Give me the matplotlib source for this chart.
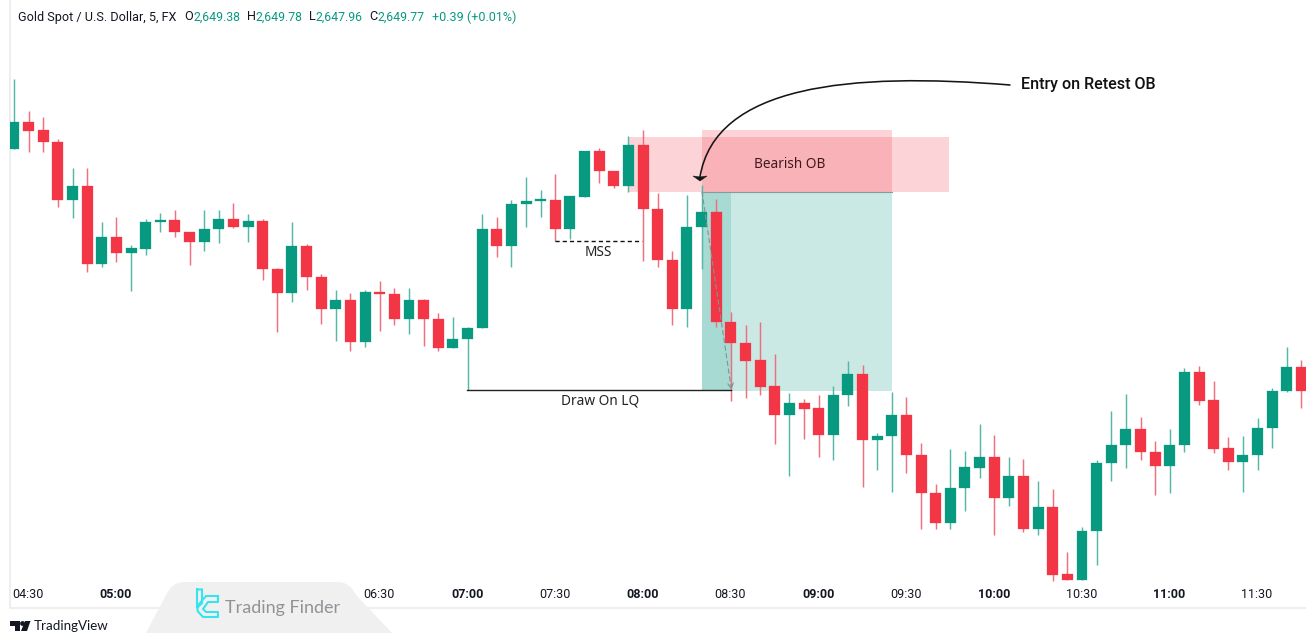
import matplotlib
matplotlib.use("Agg")
import matplotlib.pyplot as plt
from matplotlib.patches import Rectangle, PathPatch, Polygon, FancyArrowPatch
from matplotlib.path import Path

opens = [2662.56,2663.88,2663.48,2662.90,2660.01,2660.70,2656.78,2658.13,2657.33,2657.56,2658.90,2659.00,2658.40,2657.88,2658.55,2659.03,2658.63,2658.96,2656.56,2655.36,2657.71,2656.16,
         2654.53,2655.01,2652.88,2655.38,2655.30,2654.05,2655.01,2654.06,2652.60,2653.05,2653.60,2658.56,2657.70,2659.78,2659.93,2660.01,2658.55,2660.16,2662.43,2661.45,2660.71,2662.75,
         2659.55,2657.00,2654.53,2658.63,2659.40,2653.92,2652.86,2651.99,2650.70,2649.25,2649.86,2649.60,2648.23,2650.23,2651.28,2648.00,2648.18,2649.23,2647.26,2645.33,2643.83,2645.60,
         2646.61,2647.15,2645.12,2646.21,2643.55,2644.63,2641.28,2640.98,2643.43,2646.85,2647.75,2648.56,2647.41,2646.70,2647.75,2651.40,2649.98,2647.58,2646.88,2647.25,2648.58,2650.43,2651.63]
closes = [2663.88,2663.46,2662.88,2660.01,2660.70,2656.78,2658.13,2657.33,2657.58,2658.91,2659.00,2658.38,2657.88,2658.56,2659.03,2658.63,2658.96,2656.55,2655.36,2657.70,2656.15,2654.53,
          2655.01,2652.88,2655.38,2655.28,2654.05,2655.01,2654.05,2652.60,2653.05,2653.60,2658.56,2657.70,2659.80,2659.95,2660.03,2658.55,2660.18,2662.43,2661.43,2660.71,2662.75,2659.53,
          2656.98,2654.53,2658.65,2659.40,2653.90,2652.83,2651.96,2650.66,2649.25,2649.86,2649.56,2648.23,2650.26,2651.28,2648.00,2648.21,2649.23,2647.25,2645.36,2643.83,2645.61,2646.63,
          2647.15,2645.11,2646.21,2643.55,2644.63,2641.26,2640.98,2643.45,2646.86,2647.76,2648.56,2647.40,2646.70,2647.76,2651.40,2649.96,2647.56,2646.90,2647.26,2648.61,2650.45,2651.63,2650.43]
highs = [2666.05,2664.43,2664.13,2663.05,2661.60,2661.60,2658.88,2659.16,2657.73,2659.06,2659.35,2659.48,2658.41,2659.48,2659.48,2659.83,2659.28,2659.03,2656.60,2658.88,2657.80,2656.31,
         2655.50,2655.36,2655.50,2655.93,2655.58,2655.58,2655.06,2654.33,2654.16,2653.63,2659.31,2659.13,2659.98,2661.13,2660.50,2661.28,2660.20,2662.46,2662.58,2661.46,2663.20,2663.50,
         2660.35,2657.43,2660.26,2660.75,2660.06,2654.39,2653.76,2653.89,2652.30,2650.33,2650.03,2650.26,2650.68,2651.95,2651.73,2648.33,2650.41,2650.13,2647.85,2645.80,2647.53,2647.43,
         2648.80,2648.23,2647.15,2647.03,2645.96,2645.53,2642.38,2643.65,2647.01,2649.45,2650.30,2649.15,2647.93,2648.56,2651.61,2651.68,2650.93,2648.13,2648.18,2649.08,2650.61,2652.63,2652.00]
lows = [2662.56,2662.41,2662.41,2659.66,2659.10,2656.38,2656.66,2656.88,2655.46,2657.25,2658.41,2658.15,2656.73,2657.45,2657.86,2658.61,2657.90,2656.01,2653.38,2654.88,2655.51,2653.82,
        2652.96,2652.45,2652.66,2653.43,2653.75,2653.28,2652.68,2652.45,2652.58,2650.50,2653.60,2657.16,2656.66,2658.63,2659.15,2657.93,2658.06,2660.16,2660.83,2660.60,2660.40,2656.96,
        2656.63,2653.75,2653.66,2656.56,2653.63,2649.96,2650.08,2650.23,2647.80,2646.21,2648.03,2647.16,2647.00,2649.71,2645.66,2646.50,2645.38,2646.36,2643.53,2643.53,2643.56,2644.45,
        2646.08,2643.25,2644.71,2643.38,2643.23,2640.96,2640.98,2640.98,2641.76,2645.93,2646.60,2647.01,2645.23,2645.35,2647.40,2649.76,2647.35,2646.50,2645.41,2646.50,2647.60,2650.40,2649.60]
tick_index = [1,7,13,19,25,31,37,43,49,55,61,67,73,79,85]
tick_labels = ["04:30","05:00","05:30","06:00","06:30","07:00","07:30","08:00","08:30","09:00","09:30","10:00","10:30","11:00","11:30"]
title_parts = [("Gold Spot / U.S. Dollar, 5, FX",18,"#131722",9.1),("O",184,"#131722",9.1),("2,649.38",193,"#089981",8.8),("H",247,"#131722",9.1),("2,649.78",255,"#089981",8.8),
               ("L",309,"#131722",9.1),("2,647.96",315,"#089981",8.8),("C",369,"#131722",9.1),("2,649.77",378,"#089981",8.8),("+0.39 (+0.01%)",432,"#089981",9.0)]

W, H = 1306, 633
GREEN, RED = "#089981", "#f23645"
STEP, X0 = 14.63, 14.0
AX_L, AX_B = 10, 608
px2i = lambda px: (px - X0) / STEP
py2p = lambda py: 2670 - py / 20

fig = plt.figure(figsize=(W/100, H/100), dpi=100, facecolor="white")
ax = fig.add_axes([AX_L/W, (H-AX_B)/H, (W-AX_L)/W, AX_B/H])
ax.set_xlim(px2i(AX_L), px2i(W))
ax.set_ylim(py2p(AX_B), py2p(0))
ax.set_xticks([]); ax.set_yticks([])
for s in ("top","right"):
    ax.spines[s].set_visible(False)
for s in ("left","bottom"):
    ax.spines[s].set_color("#eeeeef"); ax.spines[s].set_linewidth(1.4)

def zone(ax, l, r, t, b, color, alpha, z):
    ax.add_patch(Rectangle((px2i(l), py2p(b)), px2i(r)-px2i(l), py2p(t)-py2p(b), fc=color, ec="none", alpha=alpha, zorder=z))

zone(ax, 702, 892, 192, 391, "#089981", 0.21, 1)
zone(ax, 702, 731, 192, 391, "#089981", 0.18, 1.1)
zone(ax, 628, 949, 137, 191.5, RED, 0.21, 1.2)
zone(ax, 702, 892, 130, 192, RED, 0.21, 1.3)
ax.plot([px2i(702), px2i(892)], [py2p(192)]*2, color="#8a9a98", lw=0.8, zorder=1.4)

idx = list(range(len(opens)))
colors = [GREEN if c >= o else RED for o, c in zip(opens, closes)]
wick_colors = ["#55b8a6" if c == GREEN else "#ef6f7e" for c in colors]
ax.vlines(idx, lows, highs, colors=wick_colors, lw=1.05, zorder=3)
ax.bar(idx, [abs(c-o) for o, c in zip(opens, closes)], bottom=[min(o, c) for o, c in zip(opens, closes)],
       width=0.75, color=colors, edgecolor=colors, linewidth=0.2, zorder=4)

for i, lab in zip(tick_index, tick_labels):
    ax.text(i - 0.03, py2p(595), lab, ha="center", va="center", fontsize=9, color="#131722", family="Roboto",
            fontweight="bold" if lab.endswith(":00") else "normal", zorder=5)

# overlay in pixel coordinates
ov = fig.add_axes([0, 0, 1, 1], zorder=10)
ov.set_xlim(0, W); ov.set_ylim(H, 0); ov.axis("off"); ov.patch.set_alpha(0)

ov.plot([555, 642], [241, 241], color="#111111", lw=1, dashes=(3, 2.2))
ov.plot([467, 731], [390, 390], color="#222222", lw=1)
ov.text(598.5, 252.5, "MSS", ha="center", va="center", fontsize=9.8, color="#222222", family="Noto Sans")
ov.text(600, 401, "Draw On LQ", ha="center", va="center", fontsize=9.8, color="#222222", family="Noto Sans")
ov.text(789.5, 164, "Bearish OB", ha="center", va="center", fontsize=9.8, color="#40181c", family="Noto Sans")
ov.text(1021, 85, "Entry on Retest OB", ha="left", va="center", fontsize=11.6, color="#111111", family="Roboto", fontweight="medium")

curve = Path([(1010, 85), (850, 72), (715, 85), (700, 177)], [Path.MOVETO, Path.CURVE4, Path.CURVE4, Path.CURVE4])
ov.add_patch(PathPatch(curve, fc="none", ec="#151515", lw=1.15, capstyle="round"))
ov.add_patch(Polygon([(693,176),(700,177),(707,176),(700,181)], fc="#151515", ec="#151515", lw=0.4))

ov.add_patch(FancyArrowPatch((702, 192), (731.5, 390), arrowstyle="->", mutation_scale=10, color="#7f9592",
                             lw=0.8, linestyle=(0, (4, 3)), shrinkA=0, shrinkB=0))

for txt, x, col, fs in title_parts:
    ov.text(x, 17, txt, ha="left", va="center", fontsize=fs, color=col, family="Roboto")

# watermark
wm = Path([(146,633),(166,595),(172,582),(184,582),(338,582),(350,582),(356,595),(392,633),(146,633)],
          [Path.MOVETO,Path.LINETO,Path.CURVE3,Path.CURVE3,Path.LINETO,Path.CURVE3,Path.CURVE3,Path.LINETO,Path.CLOSEPOLY])
ov.add_patch(PathPatch(wm, fc="#f0f0f0", ec="none"))
CY = "#35e4ee"
ov.plot([197,202,202,197,197], [589.5,589.5,603,608,589.5], color=CY, lw=1.5, solid_joinstyle="miter")
ov.plot([218,206,197.5,197.5,203,218,218,206,203,208,218,218], [596,596,606,611,617,617,612,612,609,602,602,596], color=CY, lw=1.5)
ov.text(225, 607.5, "Trading Finder", ha="left", va="center", fontsize=13, color="#8f9396", family="Lato")

# TradingView mark
ov.add_patch(Polygon([(10,621),(20,621),(20,631),(15,631),(15,626),(10,626)], fc="#131722", ec="none"))
ov.add_patch(Polygon([(25,621),(30.5,621),(27,631),(21,631)], fc="#131722", ec="none"))
ov.add_patch(plt.Circle((22.5,623.5), 2.4, fc="#131722", ec="none"))
ov.text(34, 626, "TradingView", ha="left", va="center", fontsize=9.6, color="#131722", family="Lato")

fig.savefig("out.png", dpi=100)
